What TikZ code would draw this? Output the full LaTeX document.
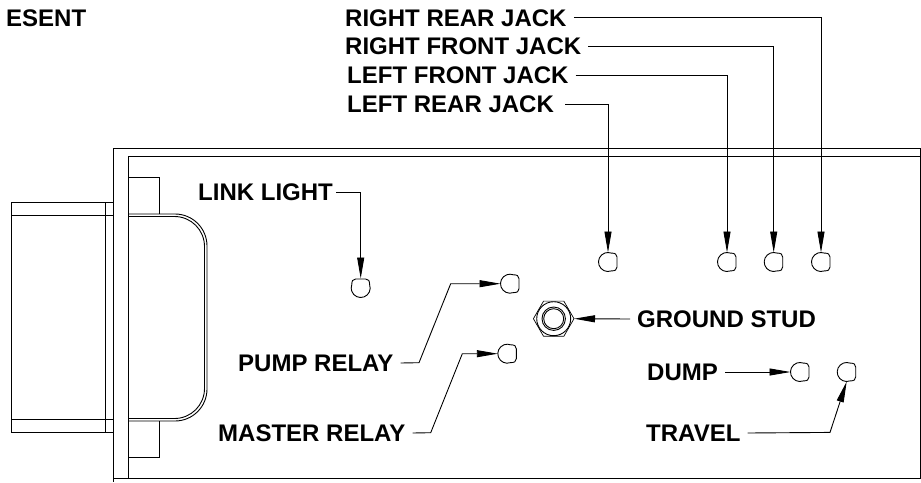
\documentclass[tikz,border=0pt]{standalone}
\usepackage{fontspec}
\setmainfont{Liberation Sans}
\usetikzlibrary{arrows.meta,shapes.geometric}

\tikzset{
  leader/.style={line width=0.9pt,-{Triangle[length=21pt,width=7pt]}},
  body/.style={line width=0.9pt},
  partlabel/.style={anchor=west,inner ysep=0pt,inner xsep=7pt,text height=17pt,text depth=0pt,font=\fontsize{24}{26}\selectfont\bfseries},
  led/.style={circle,inner sep=0pt,outer sep=0pt,minimum size=19pt}
}

\begin{document}
\begin{tikzpicture}[x=1pt,y=-1pt]
            \useasboundingbox (0,0) rectangle (921,482);

            \draw [body] (11.5,202) rectangle (113,432);
            \draw [body] (11.5,215) -- (113,215);
            \draw [body] (11.5,419) -- (113,419);
            \draw [body] (105,202) -- (105,432);
            \draw [body] (921,148) -- (113,148) -- (113,482);
            \draw [body] (921,156) -- (128,156) -- (128,478);
            \draw [body] (113,478) -- (921,478);
            \draw [body] (920,148) -- (920,478);
            \draw [body] (128,177.5) -- (159,177.5) -- (159,214);
            \draw [body] (128,457) -- (159,457) -- (159,421);
            \draw [body,rounded corners=32pt] (128,214) -- (207,214) -- (207,421) -- (128,421);
            \draw [body,rounded corners=30pt] (128,216.5) -- (204.5,216.5) -- (204.5,418.5) -- (128,418.5);

            \foreach \name/\x/\y/\turn in {link/360.7/288/90,pump/510/283.7/0,master/507.3/353.7/0,
                leftrear/608/262/0,leftfront/727/262/0,rightfront/773.7/262/0,rightrear/821/262/0,
                dump/800/372/0,travel/846.7/372/0} {
              \node [led] (\name) at (\x,\y) {};
              \draw [body,shift={(\name.center)},rotate=\turn]
                (70:9.5) arc (70:290:9.5) .. controls (7,-8.9) and (9,-8) .. (9,-5) -- (9,5) .. controls (9,8) and (7,8.9) .. cycle;
            }

            \node [draw,line width=0.7pt,regular polygon,regular polygon sides=6,inner sep=0pt,outer sep=0pt,minimum size=40.6pt] (nut) at (553.7,318.7) {};
            \draw [body] (nut.center) circle (17);
            \draw [body] (nut.center) circle (11.7);
            \draw [body] (nut.center) circle (10);

            \node [partlabel] (esent) at (-1,18) {ESENT};
            \node [partlabel] (rightrearlabel) at (338,17.5) {RIGHT REAR JACK};
            \node [partlabel] (rightfrontlabel) at (338,46) {RIGHT FRONT JACK};
            \node [partlabel] (leftfrontlabel) at (340,75) {LEFT FRONT JACK};
            \node [partlabel] (leftrearlabel) at (340,104) {LEFT REAR JACK};
            \node [partlabel,inner xsep=3pt] (linklabel) at (195,192) {LINK LIGHT};
            \node [partlabel] (pumplabel) at (231,363) {PUMP RELAY};
            \node [partlabel] (masterlabel) at (211,433) {MASTER RELAY};
            \node [partlabel] (groundlabel) at (630,319) {GROUND STUD};
            \node [partlabel] (dumplabel) at (640,372) {DUMP};
            \node [partlabel] (travellabel) at (639,433) {TRAVEL};

            \draw [leader] (rightrearlabel.east) -| (rightrear.north);
            \draw [leader] (rightfrontlabel.east) -| (rightfront.north);
            \draw [leader] (leftfrontlabel.east) -| (leftfront.north);
            \draw [leader] ([xshift=4pt]leftrearlabel.east) -| (leftrear.north);
            \draw [leader] (linklabel.east) -| (link.north);
            \draw [leader] (pumplabel.east) -- (419,362.7) -- (450.7,283.7) -- (pump.west);
            \draw [leader] (masterlabel.east) -- (430.7,432.7) -- (462.3,353.7) -- (master.west);
            \path [leader] (groundlabel.west) edge (nut.east);
            \path [leader] (dumplabel.east) edge (dump.west);
            \draw [leader] (travellabel.east) -- (830,432.4) -- (travel.south);
        \end{tikzpicture}
\end{document}
